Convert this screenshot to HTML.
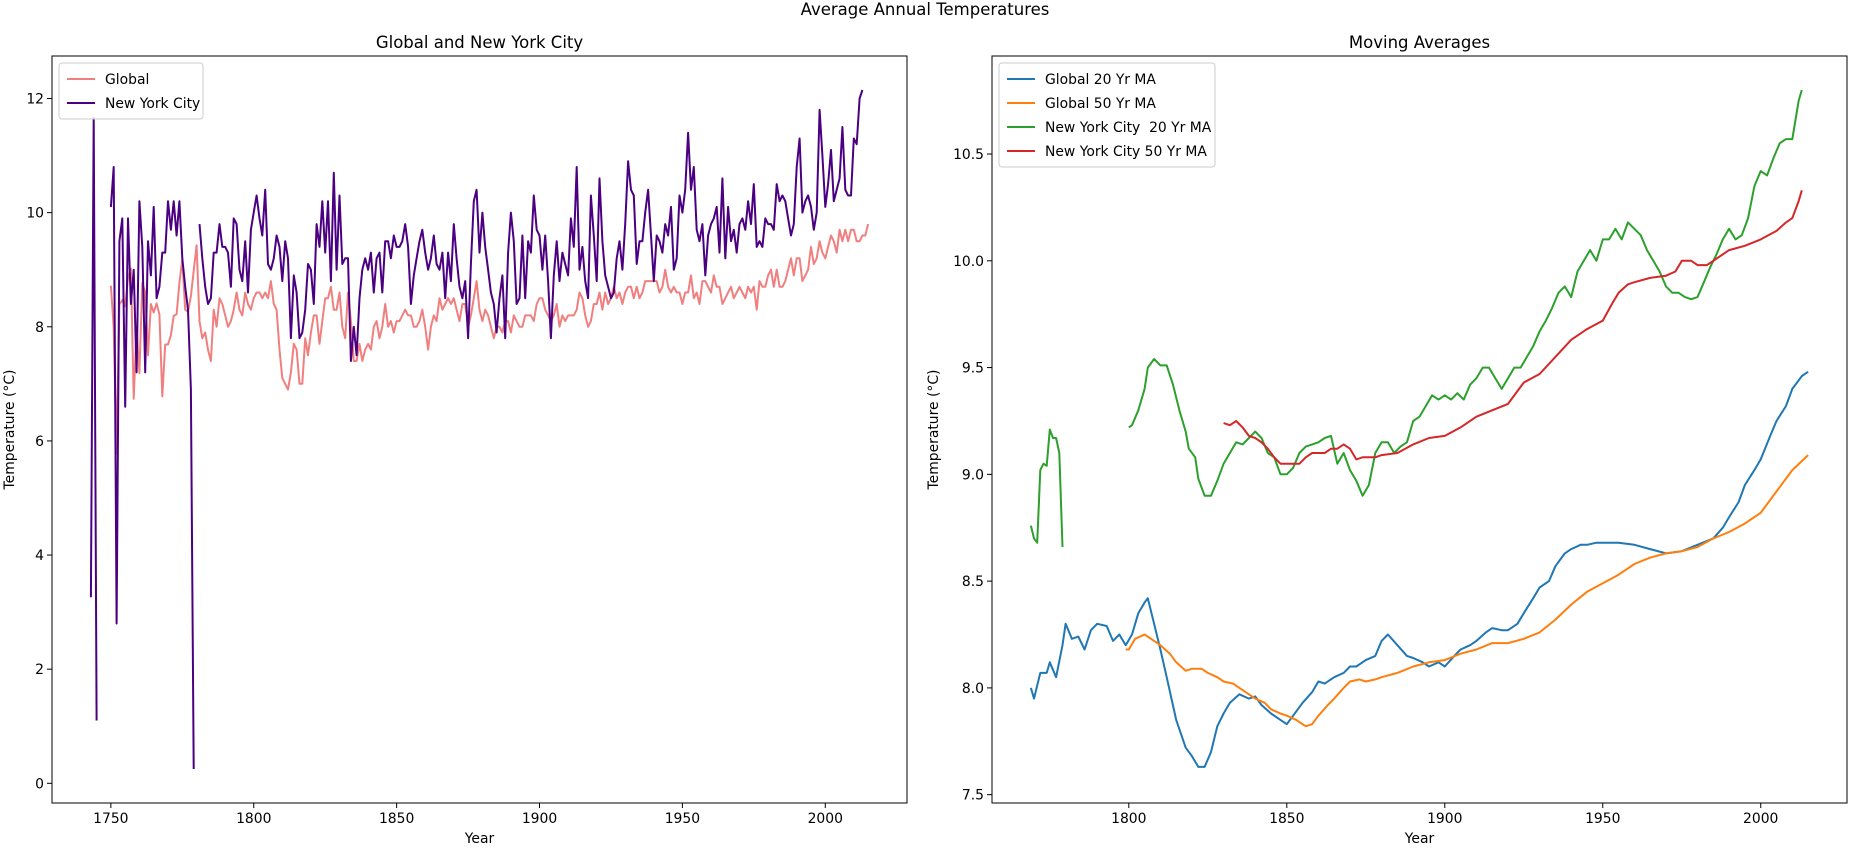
<!DOCTYPE html>
<html><head><meta charset="utf-8"><style>
html,body{margin:0;padding:0;background:#fff;}
svg{display:block;font-family:"DejaVu Sans","Liberation Sans",sans-serif;}
</style></head><body>
<svg id="fig" width="1850" height="850" viewBox="0 0 1850 850" xmlns="http://www.w3.org/2000/svg">
<rect width="1850" height="850" fill="#fff"/>
<text x="925" y="15" font-size="16.5" text-anchor="middle">Average Annual Temperatures</text>
<g id="left"></g>
<g id="right"></g>
</svg>
<script>
// ---- Left chart data ----
const globalStart = 1750;
const globalTemps = [8.72,7.98,5.78,8.39,8.47,8.36,8.85,9.02,6.74,7.99,
7.19,8.77,8.61,7.5,8.4,8.25,8.41,8.22,6.78,7.69,
7.69,7.85,8.19,8.22,8.77,9.18,8.3,8.26,8.54,8.98,
9.43,8.1,7.8,7.9,7.6,7.4,8.3,8.0,8.5,8.4,
8.2,8.0,8.1,8.3,8.6,8.3,8.2,8.6,8.4,8.3,
8.5,8.6,8.6,8.5,8.6,8.5,8.8,8.4,8.3,7.6,
7.1,7.0,6.9,7.2,7.7,7.6,7.0,7.0,7.8,7.5,
7.9,8.2,8.2,7.7,8.1,8.5,8.5,8.7,8.3,8.3,
8.6,8.0,7.8,8.6,8.1,7.4,7.4,7.7,7.4,7.6,
7.7,7.6,8.0,8.1,7.8,8.0,8.4,8.0,8.1,7.9,
8.1,8.1,8.2,8.3,8.2,8.2,8.0,8.0,8.1,8.3,
8.0,7.6,8.0,8.2,8.1,8.5,8.3,8.4,8.5,8.4,
8.5,8.3,8.1,8.4,8.4,8.0,8.2,8.5,8.8,8.3,
8.1,8.3,8.2,8.0,7.8,8.0,8.0,7.9,8.1,8.1,
7.9,8.2,8.1,8.0,8.0,8.2,8.2,8.2,8.1,8.4,
8.5,8.5,8.3,8.2,8.1,8.2,8.4,8.0,8.2,8.1,
8.2,8.2,8.2,8.3,8.6,8.5,8.2,8.0,8.1,8.4,
8.4,8.6,8.3,8.6,8.4,8.5,8.7,8.5,8.6,8.4,
8.6,8.7,8.7,8.5,8.7,8.5,8.6,8.8,8.8,8.8,
8.8,8.8,8.6,8.7,9.0,8.7,8.6,8.7,8.6,8.6,
8.4,8.6,8.6,8.9,8.5,8.6,8.4,8.8,8.8,8.7,
8.6,8.9,8.7,8.7,8.4,8.5,8.6,8.7,8.5,8.6,
8.7,8.6,8.5,8.7,8.6,8.7,8.3,8.8,8.7,8.7,
8.9,9.0,8.7,9.0,8.7,8.7,8.8,9.0,9.2,8.9,
9.2,9.2,8.8,8.9,9.0,9.4,9.1,9.2,9.5,9.3,
9.2,9.4,9.6,9.5,9.3,9.7,9.5,9.7,9.5,9.7,
9.7,9.5,9.5,9.6,9.6,9.8];
const nycStart = 1743;
const nycTemps = [3.26,11.66,1.1,null,null,null,null,
10.1,10.8,2.8,9.5,9.9,6.6,9.9,8.4,9.0,7.2,
10.2,9.4,7.2,9.5,8.9,10.1,8.5,8.7,9.3,9.3,
10.2,9.7,10.2,9.6,10.2,9.2,8.7,8.3,6.9,0.25,
null,
9.8,9.2,8.7,8.4,8.5,9.3,9.3,9.8,9.4,9.4,
9.3,8.7,9.9,9.8,9.0,8.8,9.5,8.6,9.7,10.0,
10.3,9.9,9.6,10.4,9.1,9.0,9.2,9.6,9.4,8.8,
9.5,9.2,7.8,8.9,8.6,7.8,7.9,8.3,9.1,9.0,
8.4,9.8,9.4,10.2,9.3,10.2,8.8,10.7,9.0,10.3,
9.1,9.2,9.2,7.4,8.0,7.5,8.5,9.0,9.2,9.0,
9.3,8.6,9.2,9.3,8.6,9.5,9.5,9.2,9.6,9.4,
9.4,9.5,9.8,9.4,8.4,8.9,9.2,9.5,9.7,9.3,
9.0,9.2,9.6,9.1,9.0,9.3,8.5,9.3,8.8,9.8,
9.2,8.7,8.5,8.8,7.8,9.1,10.2,10.4,9.3,10.0,
9.4,9.0,8.6,8.4,7.9,8.5,8.9,7.8,9.3,10.0,
9.5,8.4,8.5,9.6,8.5,9.5,9.3,10.3,9.7,9.6,
9.0,9.6,8.8,7.8,8.9,9.5,8.8,9.3,9.1,8.9,
9.9,9.4,10.8,9.0,9.4,8.8,8.5,10.3,9.6,8.8,
10.6,9.5,8.9,8.7,8.5,8.6,9.2,9.5,9.0,9.8,
10.9,10.4,10.3,9.1,9.5,9.5,10.0,10.4,9.6,8.8,
9.6,9.5,9.3,9.8,9.6,10.1,9.0,9.2,10.3,10.0,
10.4,11.4,10.4,10.8,9.7,9.5,9.8,8.9,9.6,9.8,
9.9,10.1,9.3,10.6,9.2,10.1,9.5,9.7,9.3,9.8,
9.9,9.7,10.2,9.8,10.5,9.4,9.5,9.4,9.9,9.8,
9.8,9.7,10.5,10.2,10.3,10.2,9.9,9.6,9.8,10.8,
11.3,10.0,10.2,10.3,10.1,9.7,10.0,11.8,11.0,10.1,
10.5,11.1,10.2,10.4,10.6,11.5,10.4,10.3,10.3,11.3,
11.2,12.0,12.15];
const leftYTicks = [0,2,4,6,8,10,12];
const leftXTicks = [1750,1800,1850,1900,1950,2000];

// ---- Right chart data ----
const g20Years = [1769,1770,1772,1774,1775,1777,1779,1780,1782,1784,1786,1788,1790,1793,1795,1797,1799,1801,1803,1805,1806,1808,1810,1812,1815,1818,1820,1822,1824,1826,1828,1830,1832,1835,1838,1840,1842,1845,1848,1850,1852,1855,1858,1860,1862,1865,1868,1870,1872,1875,1878,1880,1882,1885,1888,1890,1893,1895,1898,1900,1903,1905,1908,1910,1913,1915,1918,1920,1923,1925,1928,1930,1933,1935,1938,1940,1943,1945,1948,1950,1955,1960,1965,1970,1975,1980,1985,1988,1990,1993,1995,1998,2000,2003,2005,2008,2010,2013,2015];
const g20Vals = [8.0,7.95,8.07,8.07,8.12,8.05,8.2,8.3,8.23,8.24,8.18,8.27,8.3,8.29,8.22,8.25,8.2,8.25,8.35,8.4,8.42,8.3,8.18,8.05,7.85,7.72,7.68,7.63,7.63,7.7,7.82,7.88,7.93,7.97,7.95,7.96,7.92,7.88,7.85,7.83,7.87,7.93,7.98,8.03,8.02,8.05,8.07,8.1,8.1,8.13,8.15,8.22,8.25,8.2,8.15,8.14,8.12,8.1,8.12,8.1,8.15,8.18,8.2,8.22,8.26,8.28,8.27,8.27,8.3,8.35,8.42,8.47,8.5,8.57,8.63,8.65,8.67,8.67,8.68,8.68,8.68,8.67,8.65,8.63,8.64,8.67,8.7,8.75,8.8,8.87,8.95,9.02,9.07,9.18,9.25,9.32,9.4,9.46,9.48];
const g50Years = [1799,1800,1802,1805,1808,1810,1813,1815,1818,1820,1823,1825,1828,1830,1833,1835,1838,1840,1843,1845,1848,1850,1853,1856,1858,1860,1863,1865,1868,1870,1873,1875,1878,1880,1885,1890,1895,1900,1905,1910,1915,1920,1925,1930,1935,1940,1945,1950,1955,1960,1965,1970,1975,1980,1985,1990,1995,2000,2005,2010,2015];
const g50Vals = [8.18,8.18,8.23,8.25,8.22,8.2,8.16,8.12,8.08,8.09,8.09,8.07,8.05,8.03,8.02,8.0,7.97,7.95,7.93,7.9,7.88,7.87,7.85,7.82,7.83,7.87,7.92,7.95,8.0,8.03,8.04,8.03,8.04,8.05,8.07,8.1,8.12,8.13,8.16,8.18,8.21,8.21,8.23,8.26,8.32,8.39,8.45,8.49,8.53,8.58,8.61,8.63,8.64,8.66,8.7,8.73,8.77,8.82,8.92,9.02,9.09];
const n20aYears = [1769,1770,1771,1772,1773,1774,1775,1776,1777,1778,1779];
const n20aVals = [8.76,8.7,8.68,9.02,9.05,9.04,9.21,9.17,9.17,9.1,8.66];
const n20bYears = [1800,1801,1803,1805,1806,1808,1810,1812,1814,1816,1818,1819,1821,1822,1824,1826,1828,1830,1832,1834,1836,1838,1840,1842,1844,1846,1848,1850,1852,1854,1856,1858,1860,1862,1864,1866,1868,1870,1872,1874,1876,1878,1880,1882,1884,1886,1888,1890,1892,1894,1896,1898,1900,1902,1904,1906,1908,1910,1912,1914,1916,1918,1920,1922,1924,1926,1928,1930,1932,1934,1936,1938,1940,1942,1944,1946,1948,1950,1952,1954,1956,1958,1960,1962,1964,1966,1968,1970,1972,1974,1976,1978,1980,1982,1984,1986,1988,1990,1992,1994,1996,1998,2000,2002,2004,2006,2008,2010,2012,2013];
const n20bVals = [9.22,9.23,9.3,9.4,9.5,9.54,9.51,9.51,9.42,9.3,9.2,9.12,9.08,8.98,8.9,8.9,8.97,9.05,9.1,9.15,9.14,9.17,9.2,9.17,9.1,9.08,9.0,9.0,9.03,9.1,9.13,9.14,9.15,9.17,9.18,9.05,9.1,9.02,8.97,8.9,8.95,9.1,9.15,9.15,9.1,9.13,9.15,9.25,9.27,9.32,9.37,9.35,9.37,9.35,9.38,9.35,9.42,9.45,9.5,9.5,9.45,9.4,9.45,9.5,9.5,9.55,9.6,9.67,9.72,9.78,9.85,9.88,9.83,9.95,10.0,10.05,10.0,10.1,10.1,10.15,10.1,10.18,10.15,10.12,10.05,10.0,9.95,9.88,9.85,9.85,9.83,9.82,9.83,9.9,9.97,10.03,10.1,10.15,10.1,10.12,10.2,10.35,10.42,10.4,10.48,10.55,10.57,10.57,10.75,10.8];
const n50Years = [1830,1832,1834,1836,1838,1840,1842,1844,1846,1848,1850,1852,1854,1856,1858,1860,1862,1864,1866,1868,1870,1872,1874,1876,1878,1880,1885,1890,1895,1900,1905,1910,1915,1920,1925,1930,1935,1940,1945,1950,1953,1955,1958,1960,1965,1970,1973,1975,1978,1980,1983,1985,1990,1995,2000,2005,2008,2010,2012,2013];
const n50Vals = [9.24,9.23,9.25,9.22,9.18,9.17,9.15,9.12,9.08,9.05,9.05,9.05,9.05,9.08,9.1,9.1,9.1,9.12,9.12,9.14,9.12,9.07,9.08,9.08,9.08,9.09,9.1,9.14,9.17,9.18,9.22,9.27,9.3,9.33,9.43,9.47,9.55,9.63,9.68,9.72,9.8,9.85,9.89,9.9,9.92,9.93,9.95,10.0,10.0,9.98,9.98,10.0,10.05,10.07,10.1,10.14,10.18,10.2,10.28,10.33];
const rightYTicks = [7.5,8.0,8.5,9.0,9.5,10.0,10.5];
const rightXTicks = [1800,1850,1900,1950,2000];

const NS = 'http://www.w3.org/2000/svg';
function mk(tag, attrs, parent){const e=document.createElementNS(NS,tag);for(const k in attrs)e.setAttribute(k,attrs[k]);parent.appendChild(e);return e;}

const PT = 56, PB = 803;
function axisFns(x0,x1,xmin,xmax,ymin,ymax){
  return {x:v=>x0+(v-xmin)/(xmax-xmin)*(x1-x0), y:v=>PB-(v-ymin)/(ymax-ymin)*(PB-PT), x0, x1};
}
function drawFrame(g, ax, xt, yt, fmt, title, ytitleX){
  for(const t of xt){
    const X=ax.x(t);
    const tk=mk('line',{x1:X,x2:X,y1:PB,y2:PB+5,stroke:'#000','stroke-width':1},g);
    
    
    const lb=mk('text',{x:X,y:PB+20,'font-size':13.9,'text-anchor':'middle'},g);
    lb.textContent=t;
    
    
  }
  for(const t of yt){
    const Y=ax.y(t);
    const tk=mk('line',{x1:ax.x0-5,x2:ax.x0,y1:Y,y2:Y,stroke:'#000','stroke-width':1},g);
    
    
    const lb=mk('text',{x:ax.x0-8,y:Y+5,'font-size':13.9,'text-anchor':'end'},g);
    lb.textContent=fmt(t);
    
    
  }
  const tt=mk('text',{x:(ax.x0+ax.x1)/2,y:48,'font-size':16.5,'text-anchor':'middle'},g);
  tt.textContent=title;
  
  
  const xl=mk('text',{x:(ax.x0+ax.x1)/2,y:843,'font-size':13.9,'text-anchor':'middle'},g);
  xl.textContent='Year';
  
  
  const yl=mk('text',{x:ytitleX,y:(PT+PB)/2,'font-size':13.9,'text-anchor':'middle',transform:`rotate(-90 ${ytitleX} ${(PT+PB)/2})`},g);
  yl.textContent='Temperature (°C)';
  
  
}
function drawSpines(g, ax){
  const r=mk('rect',{x:ax.x0,y:PT,width:ax.x1-ax.x0,height:PB-PT,fill:'none',stroke:'#000','stroke-width':1},g);
  
  
}
function linePath(ax, years, vals){
  let d='', pen=false;
  for(let i=0;i<vals.length;i++){
    if(vals[i]==null){pen=false;continue;}
    d+=(pen?'L':'M')+ax.x(years[i]).toFixed(1)+' '+ax.y(vals[i]).toFixed(1);
    pen=true;
  }
  return d;
}
function drawLegend(g, x, y, w, entries){
  const h=entries.length*24+8;
  const bx=mk('rect',{x:x,y:y,width:w,height:h,rx:3,fill:'#fff','fill-opacity':0.8,stroke:'#ccc'},g);
  
  
  entries.forEach((e,i)=>{
    const yy=y+16+i*24;
    const ln=mk('line',{x1:x+8,x2:x+36,y1:yy,y2:yy,stroke:e[1],'stroke-width':2},g);
    
    
    const tx=mk('text',{x:x+46,y:yy+5,'font-size':13.9},g);
    tx.textContent=e[0];
    
    
  });
}

// Left
const L=document.getElementById('left');
const axL=axisFns(52,907,1729.4,2028.6,-0.345,12.745);
drawFrame(L,axL,leftXTicks,leftYTicks,v=>String(v),'Global and New York City',14);
const gYears=globalTemps.map((_,i)=>globalStart+i);
const nYears=nycTemps.map((_,i)=>nycStart+i);
const pg=mk('path',{d:linePath(axL,gYears,globalTemps),fill:'none',stroke:'#f08080','stroke-width':2,'stroke-linejoin':'round'},L);


const pn=mk('path',{d:linePath(axL,nYears,nycTemps),fill:'none',stroke:'#4b0082','stroke-width':2,'stroke-linejoin':'round'},L);


drawSpines(L,axL);
drawLegend(L,59,63,144,[['Global','#f08080'],['New York City','#4b0082']]);

// Right
const R=document.getElementById('right');
const axR=axisFns(992,1847,1756.7,2027.3,7.461,10.959);
drawFrame(R,axR,rightXTicks,rightYTicks,v=>v.toFixed(1),'Moving Averages',938);
const series=[[g20Years,g20Vals,'#1f77b4','global-20yr-ma-line'],[g50Years,g50Vals,'#ff7f0e','global-50yr-ma-line'],[n20aYears,n20aVals,'#2ca02c','nyc-20yr-ma-line'],[n20bYears,n20bVals,'#2ca02c','nyc-20yr-ma-line'],[n50Years,n50Vals,'#d62728','nyc-50yr-ma-line']];
for(const s of series){
  const p=mk('path',{d:linePath(axR,s[0],s[1]),fill:'none',stroke:s[2],'stroke-width':2,'stroke-linejoin':'round'},R);
  
  
}
drawSpines(R,axR);
drawLegend(R,999,63,216,[['Global 20 Yr MA','#1f77b4'],['Global 50 Yr MA','#ff7f0e'],['New York City\u00a0 20 Yr MA','#2ca02c'],['New York City 50 Yr MA','#d62728']]);
</script>
</body></html>
